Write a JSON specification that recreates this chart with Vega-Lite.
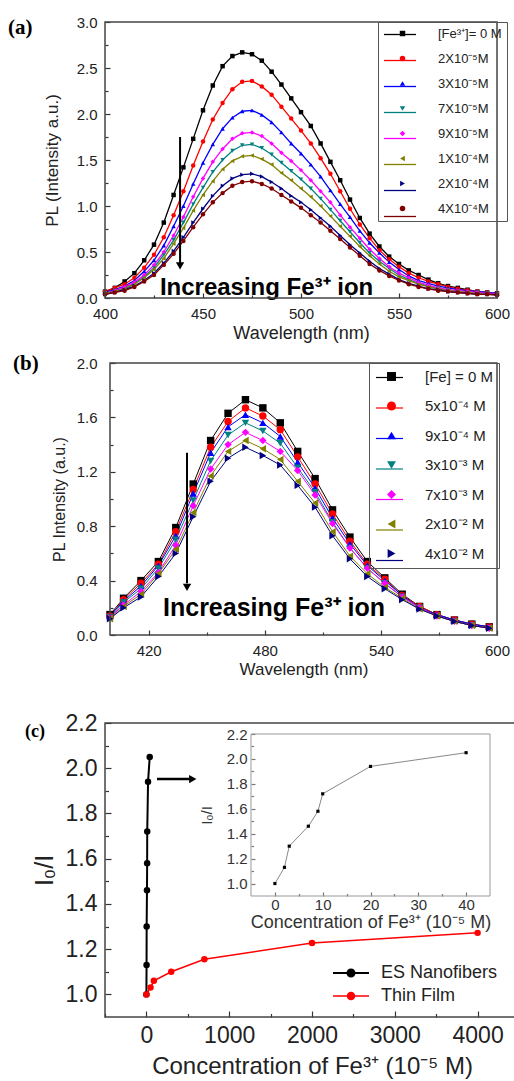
{
"$schema": "https://vega.github.io/schema/vega-lite/v6.json",
"width": 514, "height": 1081, "padding": 0, "autosize": {"type": "none"}, "background": "white",
"config": {"view": {"stroke": null}, "font": "Liberation Sans",
 "axis": {"grid": false, "domain": false, "labelFont": "Liberation Sans", "titleFont": "Liberation Sans", "labelColor": "#222", "titleColor": "#222", "tickColor": "#333", "tickWidth": 1.2, "labelOverlap": false, "labelFlush": false, "labelBound": false, "titleFontWeight": "normal"},
 "legend": {"labelFont": "Liberation Sans"}},
"datasets": {
"specA": [
{"s":"[Fe³⁺]= 0 M","x":400,"y":0.07},{"s":"[Fe³⁺]= 0 M","x":405,"y":0.11},{"s":"[Fe³⁺]= 0 M","x":410,"y":0.18},{"s":"[Fe³⁺]= 0 M","x":415,"y":0.27},{"s":"[Fe³⁺]= 0 M","x":420,"y":0.41},{"s":"[Fe³⁺]= 0 M","x":425,"y":0.58},{"s":"[Fe³⁺]= 0 M","x":430,"y":0.82},{"s":"[Fe³⁺]= 0 M","x":435,"y":1.12},{"s":"[Fe³⁺]= 0 M","x":440,"y":1.42},{"s":"[Fe³⁺]= 0 M","x":445,"y":1.73},{"s":"[Fe³⁺]= 0 M","x":450,"y":2.04},{"s":"[Fe³⁺]= 0 M","x":455,"y":2.31},{"s":"[Fe³⁺]= 0 M","x":460,"y":2.52},{"s":"[Fe³⁺]= 0 M","x":465,"y":2.63},{"s":"[Fe³⁺]= 0 M","x":470,"y":2.67},{"s":"[Fe³⁺]= 0 M","x":475,"y":2.65},{"s":"[Fe³⁺]= 0 M","x":480,"y":2.58},{"s":"[Fe³⁺]= 0 M","x":485,"y":2.46},{"s":"[Fe³⁺]= 0 M","x":490,"y":2.32},{"s":"[Fe³⁺]= 0 M","x":495,"y":2.17},{"s":"[Fe³⁺]= 0 M","x":500,"y":2.02},{"s":"[Fe³⁺]= 0 M","x":505,"y":1.87},{"s":"[Fe³⁺]= 0 M","x":510,"y":1.68},{"s":"[Fe³⁺]= 0 M","x":515,"y":1.48},{"s":"[Fe³⁺]= 0 M","x":520,"y":1.28},{"s":"[Fe³⁺]= 0 M","x":525,"y":1.07},{"s":"[Fe³⁺]= 0 M","x":530,"y":0.87},{"s":"[Fe³⁺]= 0 M","x":535,"y":0.70},{"s":"[Fe³⁺]= 0 M","x":540,"y":0.56},{"s":"[Fe³⁺]= 0 M","x":545,"y":0.45},{"s":"[Fe³⁺]= 0 M","x":550,"y":0.37},{"s":"[Fe³⁺]= 0 M","x":555,"y":0.30},{"s":"[Fe³⁺]= 0 M","x":560,"y":0.25},{"s":"[Fe³⁺]= 0 M","x":565,"y":0.20},{"s":"[Fe³⁺]= 0 M","x":570,"y":0.16},{"s":"[Fe³⁺]= 0 M","x":575,"y":0.13},{"s":"[Fe³⁺]= 0 M","x":580,"y":0.11},{"s":"[Fe³⁺]= 0 M","x":585,"y":0.09},{"s":"[Fe³⁺]= 0 M","x":590,"y":0.07},{"s":"[Fe³⁺]= 0 M","x":595,"y":0.06},{"s":"[Fe³⁺]= 0 M","x":600,"y":0.05},
{"s":"2X10⁻⁵M","x":400,"y":0.07},{"s":"2X10⁻⁵M","x":405,"y":0.11},{"s":"2X10⁻⁵M","x":410,"y":0.15},{"s":"2X10⁻⁵M","x":415,"y":0.22},{"s":"2X10⁻⁵M","x":420,"y":0.33},{"s":"2X10⁻⁵M","x":425,"y":0.47},{"s":"2X10⁻⁵M","x":430,"y":0.66},{"s":"2X10⁻⁵M","x":435,"y":0.90},{"s":"2X10⁻⁵M","x":440,"y":1.16},{"s":"2X10⁻⁵M","x":445,"y":1.44},{"s":"2X10⁻⁵M","x":450,"y":1.70},{"s":"2X10⁻⁵M","x":455,"y":1.94},{"s":"2X10⁻⁵M","x":460,"y":2.12},{"s":"2X10⁻⁵M","x":465,"y":2.27},{"s":"2X10⁻⁵M","x":470,"y":2.35},{"s":"2X10⁻⁵M","x":475,"y":2.36},{"s":"2X10⁻⁵M","x":480,"y":2.30},{"s":"2X10⁻⁵M","x":485,"y":2.21},{"s":"2X10⁻⁵M","x":490,"y":2.08},{"s":"2X10⁻⁵M","x":495,"y":1.95},{"s":"2X10⁻⁵M","x":500,"y":1.82},{"s":"2X10⁻⁵M","x":505,"y":1.68},{"s":"2X10⁻⁵M","x":510,"y":1.52},{"s":"2X10⁻⁵M","x":515,"y":1.35},{"s":"2X10⁻⁵M","x":520,"y":1.16},{"s":"2X10⁻⁵M","x":525,"y":0.97},{"s":"2X10⁻⁵M","x":530,"y":0.80},{"s":"2X10⁻⁵M","x":535,"y":0.65},{"s":"2X10⁻⁵M","x":540,"y":0.52},{"s":"2X10⁻⁵M","x":545,"y":0.42},{"s":"2X10⁻⁵M","x":550,"y":0.34},{"s":"2X10⁻⁵M","x":555,"y":0.27},{"s":"2X10⁻⁵M","x":560,"y":0.22},{"s":"2X10⁻⁵M","x":565,"y":0.18},{"s":"2X10⁻⁵M","x":570,"y":0.15},{"s":"2X10⁻⁵M","x":575,"y":0.12},{"s":"2X10⁻⁵M","x":580,"y":0.10},{"s":"2X10⁻⁵M","x":585,"y":0.085},{"s":"2X10⁻⁵M","x":590,"y":0.07},{"s":"2X10⁻⁵M","x":595,"y":0.06},{"s":"2X10⁻⁵M","x":600,"y":0.05},
{"s":"3X10⁻⁵M","x":400,"y":0.06},{"s":"3X10⁻⁵M","x":405,"y":0.09},{"s":"3X10⁻⁵M","x":410,"y":0.13},{"s":"3X10⁻⁵M","x":415,"y":0.19},{"s":"3X10⁻⁵M","x":420,"y":0.29},{"s":"3X10⁻⁵M","x":425,"y":0.41},{"s":"3X10⁻⁵M","x":430,"y":0.57},{"s":"3X10⁻⁵M","x":435,"y":0.78},{"s":"3X10⁻⁵M","x":440,"y":1.00},{"s":"3X10⁻⁵M","x":445,"y":1.24},{"s":"3X10⁻⁵M","x":450,"y":1.47},{"s":"3X10⁻⁵M","x":455,"y":1.67},{"s":"3X10⁻⁵M","x":460,"y":1.84},{"s":"3X10⁻⁵M","x":465,"y":1.96},{"s":"3X10⁻⁵M","x":470,"y":2.03},{"s":"3X10⁻⁵M","x":475,"y":2.04},{"s":"3X10⁻⁵M","x":480,"y":1.99},{"s":"3X10⁻⁵M","x":485,"y":1.91},{"s":"3X10⁻⁵M","x":490,"y":1.80},{"s":"3X10⁻⁵M","x":495,"y":1.68},{"s":"3X10⁻⁵M","x":500,"y":1.57},{"s":"3X10⁻⁵M","x":505,"y":1.45},{"s":"3X10⁻⁵M","x":510,"y":1.32},{"s":"3X10⁻⁵M","x":515,"y":1.17},{"s":"3X10⁻⁵M","x":520,"y":1.02},{"s":"3X10⁻⁵M","x":525,"y":0.88},{"s":"3X10⁻⁵M","x":530,"y":0.73},{"s":"3X10⁻⁵M","x":535,"y":0.60},{"s":"3X10⁻⁵M","x":540,"y":0.49},{"s":"3X10⁻⁵M","x":545,"y":0.39},{"s":"3X10⁻⁵M","x":550,"y":0.31},{"s":"3X10⁻⁵M","x":555,"y":0.24},{"s":"3X10⁻⁵M","x":560,"y":0.19},{"s":"3X10⁻⁵M","x":565,"y":0.16},{"s":"3X10⁻⁵M","x":570,"y":0.13},{"s":"3X10⁻⁵M","x":575,"y":0.11},{"s":"3X10⁻⁵M","x":580,"y":0.09},{"s":"3X10⁻⁵M","x":585,"y":0.08},{"s":"3X10⁻⁵M","x":590,"y":0.07},{"s":"3X10⁻⁵M","x":595,"y":0.06},{"s":"3X10⁻⁵M","x":600,"y":0.05},
{"s":"7X10⁻⁵M","x":400,"y":0.05},{"s":"7X10⁻⁵M","x":405,"y":0.08},{"s":"7X10⁻⁵M","x":410,"y":0.11},{"s":"7X10⁻⁵M","x":415,"y":0.16},{"s":"7X10⁻⁵M","x":420,"y":0.23},{"s":"7X10⁻⁵M","x":425,"y":0.33},{"s":"7X10⁻⁵M","x":430,"y":0.47},{"s":"7X10⁻⁵M","x":435,"y":0.63},{"s":"7X10⁻⁵M","x":440,"y":0.82},{"s":"7X10⁻⁵M","x":445,"y":1.02},{"s":"7X10⁻⁵M","x":450,"y":1.20},{"s":"7X10⁻⁵M","x":455,"y":1.37},{"s":"7X10⁻⁵M","x":460,"y":1.50},{"s":"7X10⁻⁵M","x":465,"y":1.60},{"s":"7X10⁻⁵M","x":470,"y":1.66},{"s":"7X10⁻⁵M","x":475,"y":1.67},{"s":"7X10⁻⁵M","x":480,"y":1.63},{"s":"7X10⁻⁵M","x":485,"y":1.56},{"s":"7X10⁻⁵M","x":490,"y":1.47},{"s":"7X10⁻⁵M","x":495,"y":1.38},{"s":"7X10⁻⁵M","x":500,"y":1.29},{"s":"7X10⁻⁵M","x":505,"y":1.19},{"s":"7X10⁻⁵M","x":510,"y":1.08},{"s":"7X10⁻⁵M","x":515,"y":0.96},{"s":"7X10⁻⁵M","x":520,"y":0.84},{"s":"7X10⁻⁵M","x":525,"y":0.72},{"s":"7X10⁻⁵M","x":530,"y":0.60},{"s":"7X10⁻⁵M","x":535,"y":0.49},{"s":"7X10⁻⁵M","x":540,"y":0.40},{"s":"7X10⁻⁵M","x":545,"y":0.32},{"s":"7X10⁻⁵M","x":550,"y":0.25},{"s":"7X10⁻⁵M","x":555,"y":0.20},{"s":"7X10⁻⁵M","x":560,"y":0.16},{"s":"7X10⁻⁵M","x":565,"y":0.13},{"s":"7X10⁻⁵M","x":570,"y":0.11},{"s":"7X10⁻⁵M","x":575,"y":0.09},{"s":"7X10⁻⁵M","x":580,"y":0.07},{"s":"7X10⁻⁵M","x":585,"y":0.06},{"s":"7X10⁻⁵M","x":590,"y":0.06},{"s":"7X10⁻⁵M","x":595,"y":0.05},{"s":"7X10⁻⁵M","x":600,"y":0.04},
{"s":"9X10⁻⁵M","x":400,"y":0.05},{"s":"9X10⁻⁵M","x":405,"y":0.08},{"s":"9X10⁻⁵M","x":410,"y":0.12},{"s":"9X10⁻⁵M","x":415,"y":0.17},{"s":"9X10⁻⁵M","x":420,"y":0.25},{"s":"9X10⁻⁵M","x":425,"y":0.36},{"s":"9X10⁻⁵M","x":430,"y":0.50},{"s":"9X10⁻⁵M","x":435,"y":0.68},{"s":"9X10⁻⁵M","x":440,"y":0.88},{"s":"9X10⁻⁵M","x":445,"y":1.10},{"s":"9X10⁻⁵M","x":450,"y":1.30},{"s":"9X10⁻⁵M","x":455,"y":1.48},{"s":"9X10⁻⁵M","x":460,"y":1.62},{"s":"9X10⁻⁵M","x":465,"y":1.73},{"s":"9X10⁻⁵M","x":470,"y":1.79},{"s":"9X10⁻⁵M","x":475,"y":1.80},{"s":"9X10⁻⁵M","x":480,"y":1.76},{"s":"9X10⁻⁵M","x":485,"y":1.68},{"s":"9X10⁻⁵M","x":490,"y":1.58},{"s":"9X10⁻⁵M","x":495,"y":1.49},{"s":"9X10⁻⁵M","x":500,"y":1.39},{"s":"9X10⁻⁵M","x":505,"y":1.28},{"s":"9X10⁻⁵M","x":510,"y":1.16},{"s":"9X10⁻⁵M","x":515,"y":1.04},{"s":"9X10⁻⁵M","x":520,"y":0.90},{"s":"9X10⁻⁵M","x":525,"y":0.77},{"s":"9X10⁻⁵M","x":530,"y":0.65},{"s":"9X10⁻⁵M","x":535,"y":0.53},{"s":"9X10⁻⁵M","x":540,"y":0.43},{"s":"9X10⁻⁵M","x":545,"y":0.34},{"s":"9X10⁻⁵M","x":550,"y":0.27},{"s":"9X10⁻⁵M","x":555,"y":0.22},{"s":"9X10⁻⁵M","x":560,"y":0.17},{"s":"9X10⁻⁵M","x":565,"y":0.14},{"s":"9X10⁻⁵M","x":570,"y":0.11},{"s":"9X10⁻⁵M","x":575,"y":0.09},{"s":"9X10⁻⁵M","x":580,"y":0.08},{"s":"9X10⁻⁵M","x":585,"y":0.07},{"s":"9X10⁻⁵M","x":590,"y":0.06},{"s":"9X10⁻⁵M","x":595,"y":0.05},{"s":"9X10⁻⁵M","x":600,"y":0.05},
{"s":"1X10⁻⁴M","x":400,"y":0.05},{"s":"1X10⁻⁴M","x":405,"y":0.07},{"s":"1X10⁻⁴M","x":410,"y":0.10},{"s":"1X10⁻⁴M","x":415,"y":0.15},{"s":"1X10⁻⁴M","x":420,"y":0.22},{"s":"1X10⁻⁴M","x":425,"y":0.31},{"s":"1X10⁻⁴M","x":430,"y":0.43},{"s":"1X10⁻⁴M","x":435,"y":0.59},{"s":"1X10⁻⁴M","x":440,"y":0.76},{"s":"1X10⁻⁴M","x":445,"y":0.95},{"s":"1X10⁻⁴M","x":450,"y":1.12},{"s":"1X10⁻⁴M","x":455,"y":1.27},{"s":"1X10⁻⁴M","x":460,"y":1.40},{"s":"1X10⁻⁴M","x":465,"y":1.49},{"s":"1X10⁻⁴M","x":470,"y":1.54},{"s":"1X10⁻⁴M","x":475,"y":1.55},{"s":"1X10⁻⁴M","x":480,"y":1.51},{"s":"1X10⁻⁴M","x":485,"y":1.45},{"s":"1X10⁻⁴M","x":490,"y":1.36},{"s":"1X10⁻⁴M","x":495,"y":1.28},{"s":"1X10⁻⁴M","x":500,"y":1.19},{"s":"1X10⁻⁴M","x":505,"y":1.10},{"s":"1X10⁻⁴M","x":510,"y":1.00},{"s":"1X10⁻⁴M","x":515,"y":0.89},{"s":"1X10⁻⁴M","x":520,"y":0.78},{"s":"1X10⁻⁴M","x":525,"y":0.67},{"s":"1X10⁻⁴M","x":530,"y":0.56},{"s":"1X10⁻⁴M","x":535,"y":0.46},{"s":"1X10⁻⁴M","x":540,"y":0.37},{"s":"1X10⁻⁴M","x":545,"y":0.29},{"s":"1X10⁻⁴M","x":550,"y":0.23},{"s":"1X10⁻⁴M","x":555,"y":0.19},{"s":"1X10⁻⁴M","x":560,"y":0.15},{"s":"1X10⁻⁴M","x":565,"y":0.12},{"s":"1X10⁻⁴M","x":570,"y":0.10},{"s":"1X10⁻⁴M","x":575,"y":0.08},{"s":"1X10⁻⁴M","x":580,"y":0.07},{"s":"1X10⁻⁴M","x":585,"y":0.06},{"s":"1X10⁻⁴M","x":590,"y":0.05},{"s":"1X10⁻⁴M","x":595,"y":0.04},{"s":"1X10⁻⁴M","x":600,"y":0.04},
{"s":"2X10⁻⁴M","x":400,"y":0.04},{"s":"2X10⁻⁴M","x":405,"y":0.06},{"s":"2X10⁻⁴M","x":410,"y":0.09},{"s":"2X10⁻⁴M","x":415,"y":0.13},{"s":"2X10⁻⁴M","x":420,"y":0.19},{"s":"2X10⁻⁴M","x":425,"y":0.27},{"s":"2X10⁻⁴M","x":430,"y":0.38},{"s":"2X10⁻⁴M","x":435,"y":0.51},{"s":"2X10⁻⁴M","x":440,"y":0.66},{"s":"2X10⁻⁴M","x":445,"y":0.82},{"s":"2X10⁻⁴M","x":450,"y":0.97},{"s":"2X10⁻⁴M","x":455,"y":1.11},{"s":"2X10⁻⁴M","x":460,"y":1.22},{"s":"2X10⁻⁴M","x":465,"y":1.30},{"s":"2X10⁻⁴M","x":470,"y":1.34},{"s":"2X10⁻⁴M","x":475,"y":1.35},{"s":"2X10⁻⁴M","x":480,"y":1.32},{"s":"2X10⁻⁴M","x":485,"y":1.26},{"s":"2X10⁻⁴M","x":490,"y":1.19},{"s":"2X10⁻⁴M","x":495,"y":1.11},{"s":"2X10⁻⁴M","x":500,"y":1.04},{"s":"2X10⁻⁴M","x":505,"y":0.96},{"s":"2X10⁻⁴M","x":510,"y":0.87},{"s":"2X10⁻⁴M","x":515,"y":0.78},{"s":"2X10⁻⁴M","x":520,"y":0.68},{"s":"2X10⁻⁴M","x":525,"y":0.58},{"s":"2X10⁻⁴M","x":530,"y":0.49},{"s":"2X10⁻⁴M","x":535,"y":0.40},{"s":"2X10⁻⁴M","x":540,"y":0.32},{"s":"2X10⁻⁴M","x":545,"y":0.26},{"s":"2X10⁻⁴M","x":550,"y":0.20},{"s":"2X10⁻⁴M","x":555,"y":0.16},{"s":"2X10⁻⁴M","x":560,"y":0.13},{"s":"2X10⁻⁴M","x":565,"y":0.10},{"s":"2X10⁻⁴M","x":570,"y":0.09},{"s":"2X10⁻⁴M","x":575,"y":0.07},{"s":"2X10⁻⁴M","x":580,"y":0.06},{"s":"2X10⁻⁴M","x":585,"y":0.05},{"s":"2X10⁻⁴M","x":590,"y":0.04},{"s":"2X10⁻⁴M","x":595,"y":0.04},{"s":"2X10⁻⁴M","x":600,"y":0.04},
{"s":"4X10⁻⁴M","x":400,"y":0.04},{"s":"4X10⁻⁴M","x":405,"y":0.06},{"s":"4X10⁻⁴M","x":410,"y":0.08},{"s":"4X10⁻⁴M","x":415,"y":0.12},{"s":"4X10⁻⁴M","x":420,"y":0.18},{"s":"4X10⁻⁴M","x":425,"y":0.25},{"s":"4X10⁻⁴M","x":430,"y":0.36},{"s":"4X10⁻⁴M","x":435,"y":0.48},{"s":"4X10⁻⁴M","x":440,"y":0.62},{"s":"4X10⁻⁴M","x":445,"y":0.77},{"s":"4X10⁻⁴M","x":450,"y":0.91},{"s":"4X10⁻⁴M","x":455,"y":1.04},{"s":"4X10⁻⁴M","x":460,"y":1.14},{"s":"4X10⁻⁴M","x":465,"y":1.22},{"s":"4X10⁻⁴M","x":470,"y":1.26},{"s":"4X10⁻⁴M","x":475,"y":1.27},{"s":"4X10⁻⁴M","x":480,"y":1.24},{"s":"4X10⁻⁴M","x":485,"y":1.19},{"s":"4X10⁻⁴M","x":490,"y":1.12},{"s":"4X10⁻⁴M","x":495,"y":1.05},{"s":"4X10⁻⁴M","x":500,"y":0.98},{"s":"4X10⁻⁴M","x":505,"y":0.90},{"s":"4X10⁻⁴M","x":510,"y":0.82},{"s":"4X10⁻⁴M","x":515,"y":0.73},{"s":"4X10⁻⁴M","x":520,"y":0.64},{"s":"4X10⁻⁴M","x":525,"y":0.55},{"s":"4X10⁻⁴M","x":530,"y":0.46},{"s":"4X10⁻⁴M","x":535,"y":0.37},{"s":"4X10⁻⁴M","x":540,"y":0.30},{"s":"4X10⁻⁴M","x":545,"y":0.24},{"s":"4X10⁻⁴M","x":550,"y":0.19},{"s":"4X10⁻⁴M","x":555,"y":0.15},{"s":"4X10⁻⁴M","x":560,"y":0.12},{"s":"4X10⁻⁴M","x":565,"y":0.10},{"s":"4X10⁻⁴M","x":570,"y":0.08},{"s":"4X10⁻⁴M","x":575,"y":0.07},{"s":"4X10⁻⁴M","x":580,"y":0.06},{"s":"4X10⁻⁴M","x":585,"y":0.05},{"s":"4X10⁻⁴M","x":590,"y":0.04},{"s":"4X10⁻⁴M","x":595,"y":0.04},{"s":"4X10⁻⁴M","x":600,"y":0.03}
],
"specB": [
{"s":"[Fe] = 0 M","x":400,"y":0.15},{"s":"[Fe] = 0 M","x":407,"y":0.27},{"s":"[Fe] = 0 M","x":416,"y":0.40},{"s":"[Fe] = 0 M","x":425,"y":0.54},{"s":"[Fe] = 0 M","x":434,"y":0.79},{"s":"[Fe] = 0 M","x":443,"y":1.11},{"s":"[Fe] = 0 M","x":452,"y":1.43},{"s":"[Fe] = 0 M","x":461,"y":1.63},{"s":"[Fe] = 0 M","x":470,"y":1.73},{"s":"[Fe] = 0 M","x":479,"y":1.67},{"s":"[Fe] = 0 M","x":488,"y":1.56},{"s":"[Fe] = 0 M","x":497,"y":1.35},{"s":"[Fe] = 0 M","x":506,"y":1.15},{"s":"[Fe] = 0 M","x":515,"y":0.92},{"s":"[Fe] = 0 M","x":524,"y":0.72},{"s":"[Fe] = 0 M","x":533,"y":0.54},{"s":"[Fe] = 0 M","x":542,"y":0.42},{"s":"[Fe] = 0 M","x":551,"y":0.30},{"s":"[Fe] = 0 M","x":560,"y":0.21},{"s":"[Fe] = 0 M","x":569,"y":0.15},{"s":"[Fe] = 0 M","x":578,"y":0.11},{"s":"[Fe] = 0 M","x":587,"y":0.08},{"s":"[Fe] = 0 M","x":596,"y":0.06},
{"s":"5x10⁻⁴ M","x":400,"y":0.14},{"s":"5x10⁻⁴ M","x":407,"y":0.26},{"s":"5x10⁻⁴ M","x":416,"y":0.38},{"s":"5x10⁻⁴ M","x":425,"y":0.52},{"s":"5x10⁻⁴ M","x":434,"y":0.76},{"s":"5x10⁻⁴ M","x":443,"y":1.07},{"s":"5x10⁻⁴ M","x":452,"y":1.38},{"s":"5x10⁻⁴ M","x":461,"y":1.57},{"s":"5x10⁻⁴ M","x":470,"y":1.67},{"s":"5x10⁻⁴ M","x":479,"y":1.61},{"s":"5x10⁻⁴ M","x":488,"y":1.51},{"s":"5x10⁻⁴ M","x":497,"y":1.31},{"s":"5x10⁻⁴ M","x":506,"y":1.11},{"s":"5x10⁻⁴ M","x":515,"y":0.89},{"s":"5x10⁻⁴ M","x":524,"y":0.69},{"s":"5x10⁻⁴ M","x":533,"y":0.52},{"s":"5x10⁻⁴ M","x":542,"y":0.41},{"s":"5x10⁻⁴ M","x":551,"y":0.29},{"s":"5x10⁻⁴ M","x":560,"y":0.21},{"s":"5x10⁻⁴ M","x":569,"y":0.15},{"s":"5x10⁻⁴ M","x":578,"y":0.11},{"s":"5x10⁻⁴ M","x":587,"y":0.08},{"s":"5x10⁻⁴ M","x":596,"y":0.06},
{"s":"9x10⁻⁴ M","x":400,"y":0.14},{"s":"9x10⁻⁴ M","x":407,"y":0.25},{"s":"9x10⁻⁴ M","x":416,"y":0.36},{"s":"9x10⁻⁴ M","x":425,"y":0.51},{"s":"9x10⁻⁴ M","x":434,"y":0.73},{"s":"9x10⁻⁴ M","x":443,"y":1.04},{"s":"9x10⁻⁴ M","x":452,"y":1.34},{"s":"9x10⁻⁴ M","x":461,"y":1.53},{"s":"9x10⁻⁴ M","x":470,"y":1.62},{"s":"9x10⁻⁴ M","x":479,"y":1.56},{"s":"9x10⁻⁴ M","x":488,"y":1.46},{"s":"9x10⁻⁴ M","x":497,"y":1.27},{"s":"9x10⁻⁴ M","x":506,"y":1.08},{"s":"9x10⁻⁴ M","x":515,"y":0.86},{"s":"9x10⁻⁴ M","x":524,"y":0.67},{"s":"9x10⁻⁴ M","x":533,"y":0.51},{"s":"9x10⁻⁴ M","x":542,"y":0.40},{"s":"9x10⁻⁴ M","x":551,"y":0.29},{"s":"9x10⁻⁴ M","x":560,"y":0.20},{"s":"9x10⁻⁴ M","x":569,"y":0.15},{"s":"9x10⁻⁴ M","x":578,"y":0.11},{"s":"9x10⁻⁴ M","x":587,"y":0.08},{"s":"9x10⁻⁴ M","x":596,"y":0.06},
{"s":"3x10⁻³ M","x":400,"y":0.13},{"s":"3x10⁻³ M","x":407,"y":0.24},{"s":"3x10⁻³ M","x":416,"y":0.34},{"s":"3x10⁻³ M","x":425,"y":0.49},{"s":"3x10⁻³ M","x":434,"y":0.70},{"s":"3x10⁻³ M","x":443,"y":0.99},{"s":"3x10⁻³ M","x":452,"y":1.28},{"s":"3x10⁻³ M","x":461,"y":1.47},{"s":"3x10⁻³ M","x":470,"y":1.56},{"s":"3x10⁻³ M","x":479,"y":1.50},{"s":"3x10⁻³ M","x":488,"y":1.41},{"s":"3x10⁻³ M","x":497,"y":1.23},{"s":"3x10⁻³ M","x":506,"y":1.05},{"s":"3x10⁻³ M","x":515,"y":0.83},{"s":"3x10⁻³ M","x":524,"y":0.64},{"s":"3x10⁻³ M","x":533,"y":0.49},{"s":"3x10⁻³ M","x":542,"y":0.38},{"s":"3x10⁻³ M","x":551,"y":0.28},{"s":"3x10⁻³ M","x":560,"y":0.20},{"s":"3x10⁻³ M","x":569,"y":0.14},{"s":"3x10⁻³ M","x":578,"y":0.10},{"s":"3x10⁻³ M","x":587,"y":0.07},{"s":"3x10⁻³ M","x":596,"y":0.05},
{"s":"7x10⁻³ M","x":400,"y":0.13},{"s":"7x10⁻³ M","x":407,"y":0.22},{"s":"7x10⁻³ M","x":416,"y":0.32},{"s":"7x10⁻³ M","x":425,"y":0.46},{"s":"7x10⁻³ M","x":434,"y":0.66},{"s":"7x10⁻³ M","x":443,"y":0.95},{"s":"7x10⁻³ M","x":452,"y":1.22},{"s":"7x10⁻³ M","x":461,"y":1.40},{"s":"7x10⁻³ M","x":470,"y":1.49},{"s":"7x10⁻³ M","x":479,"y":1.43},{"s":"7x10⁻³ M","x":488,"y":1.35},{"s":"7x10⁻³ M","x":497,"y":1.21},{"s":"7x10⁻³ M","x":506,"y":1.03},{"s":"7x10⁻³ M","x":515,"y":0.82},{"s":"7x10⁻³ M","x":524,"y":0.64},{"s":"7x10⁻³ M","x":533,"y":0.49},{"s":"7x10⁻³ M","x":542,"y":0.38},{"s":"7x10⁻³ M","x":551,"y":0.28},{"s":"7x10⁻³ M","x":560,"y":0.20},{"s":"7x10⁻³ M","x":569,"y":0.14},{"s":"7x10⁻³ M","x":578,"y":0.10},{"s":"7x10⁻³ M","x":587,"y":0.07},{"s":"7x10⁻³ M","x":596,"y":0.05},
{"s":"2x10⁻² M","x":400,"y":0.12},{"s":"2x10⁻² M","x":407,"y":0.21},{"s":"2x10⁻² M","x":416,"y":0.30},{"s":"2x10⁻² M","x":425,"y":0.45},{"s":"2x10⁻² M","x":434,"y":0.63},{"s":"2x10⁻² M","x":443,"y":0.90},{"s":"2x10⁻² M","x":452,"y":1.17},{"s":"2x10⁻² M","x":461,"y":1.35},{"s":"2x10⁻² M","x":470,"y":1.43},{"s":"2x10⁻² M","x":479,"y":1.37},{"s":"2x10⁻² M","x":488,"y":1.29},{"s":"2x10⁻² M","x":497,"y":1.13},{"s":"2x10⁻² M","x":506,"y":0.97},{"s":"2x10⁻² M","x":515,"y":0.76},{"s":"2x10⁻² M","x":524,"y":0.58},{"s":"2x10⁻² M","x":533,"y":0.45},{"s":"2x10⁻² M","x":542,"y":0.35},{"s":"2x10⁻² M","x":551,"y":0.27},{"s":"2x10⁻² M","x":560,"y":0.19},{"s":"2x10⁻² M","x":569,"y":0.14},{"s":"2x10⁻² M","x":578,"y":0.10},{"s":"2x10⁻² M","x":587,"y":0.07},{"s":"2x10⁻² M","x":596,"y":0.05},
{"s":"4x10⁻² M","x":400,"y":0.12},{"s":"4x10⁻² M","x":407,"y":0.20},{"s":"4x10⁻² M","x":416,"y":0.28},{"s":"4x10⁻² M","x":425,"y":0.43},{"s":"4x10⁻² M","x":434,"y":0.60},{"s":"4x10⁻² M","x":443,"y":0.87},{"s":"4x10⁻² M","x":452,"y":1.13},{"s":"4x10⁻² M","x":461,"y":1.30},{"s":"4x10⁻² M","x":470,"y":1.38},{"s":"4x10⁻² M","x":479,"y":1.32},{"s":"4x10⁻² M","x":488,"y":1.25},{"s":"4x10⁻² M","x":497,"y":1.10},{"s":"4x10⁻² M","x":506,"y":0.94},{"s":"4x10⁻² M","x":515,"y":0.73},{"s":"4x10⁻² M","x":524,"y":0.56},{"s":"4x10⁻² M","x":533,"y":0.43},{"s":"4x10⁻² M","x":542,"y":0.34},{"s":"4x10⁻² M","x":551,"y":0.26},{"s":"4x10⁻² M","x":560,"y":0.19},{"s":"4x10⁻² M","x":569,"y":0.14},{"s":"4x10⁻² M","x":578,"y":0.10},{"s":"4x10⁻² M","x":587,"y":0.07},{"s":"4x10⁻² M","x":596,"y":0.05}
],
"conc": [
{"m":"ES Nanofibers","c":0,"r":1.00},{"m":"ES Nanofibers","c":2,"r":1.13},{"m":"ES Nanofibers","c":3,"r":1.30},{"m":"ES Nanofibers","c":7,"r":1.46},{"m":"ES Nanofibers","c":9,"r":1.58},{"m":"ES Nanofibers","c":10,"r":1.72},{"m":"ES Nanofibers","c":20,"r":1.94},{"m":"ES Nanofibers","c":40,"r":2.05},
{"m":"Thin Film","c":0,"r":1.00},{"m":"Thin Film","c":50,"r":1.03},{"m":"Thin Film","c":90,"r":1.06},{"m":"Thin Film","c":300,"r":1.10},{"m":"Thin Film","c":700,"r":1.155},{"m":"Thin Film","c":2000,"r":1.227},{"m":"Thin Film","c":4000,"r":1.272}
]
},
"layer": [
{
 "layer": [
  {"data": {"name": "specA"}, "mark": {"type": "line", "strokeWidth": 1.3},
   "encoding": {
    "x": {"field": "x", "type": "quantitative", "scale": {"domain": [400,600], "range": [105,497], "nice": false, "zero": false},
      "axis": {"orient": "bottom", "offset": -783, "values": [400,450,500,550,600], "ticks": false, "labelPadding": 8.5, "labelFontSize": 15, "title": "Wavelength (nm)", "titleFontSize": 18, "titlePadding": 2.5}},
    "y": {"field": "y", "type": "quantitative", "scale": {"domain": [0,3], "range": [298,22], "nice": false, "zero": false},
      "axis": {"orient": "left", "offset": -105, "values": [0,0.5,1,1.5,2,2.5,3], "format": ".1f", "ticks": false, "labelPadding": 8, "labelFontSize": 15, "title": "PL (Intensity a.u.)", "titleFontSize": 17, "titlePadding": 15}},
    "color": {"field": "s", "type": "nominal", "scale": {"domain": ["[Fe³⁺]= 0 M","2X10⁻⁵M","3X10⁻⁵M","7X10⁻⁵M","9X10⁻⁵M","1X10⁻⁴M","2X10⁻⁴M","4X10⁻⁴M"], "range": ["#000000","#ff0000","#0000ff","#008080","#ff00ff","#808000","#000080","#800000"]},
      "legend": {"orient": "none", "legendX": 378, "legendY": 22, "title": null, "padding": 5,
        "symbolType": "M-2.46,0H2.46", "symbolSize": 169, "symbolOffset": 9.5, "symbolStrokeWidth": 1.3, "labelExpr": "''", "labelFontSize": 13, "labelOffset": 29, "rowPadding": 11}}
   }},
  {"data": {"name": "specA"}, "mark": {"type": "point", "filled": true, "size": 20, "opacity": 1},
   "encoding": {
    "x": {"field": "x", "type": "quantitative", "scale": {"domain": [400,600], "range": [105,497], "nice": false, "zero": false},
      "axis": {"orient": "top", "offset": -298, "values": [400,450,500,550,600], "tickSize": 5, "labels": false, "title": null}},
    "y": {"field": "y", "type": "quantitative", "scale": {"domain": [0,3], "range": [298,22], "nice": false, "zero": false},
      "axis": {"orient": "right", "offset": -409, "values": [0,0.5,1,1.5,2,2.5,3], "tickSize": 5, "labels": false, "title": null}},
    "color": {"field": "s", "type": "nominal", "scale": {"domain": ["[Fe³⁺]= 0 M","2X10⁻⁵M","3X10⁻⁵M","7X10⁻⁵M","9X10⁻⁵M","1X10⁻⁴M","2X10⁻⁴M","4X10⁻⁴M"], "range": ["#000000","#ff0000","#0000ff","#008080","#ff00ff","#808000","#000080","#800000"]},
      "legend": {"orient": "none", "legendX": 378, "legendY": 22, "title": null, "padding": 5, "strokeColor": "#555555",
        "symbolSize": 30, "symbolOffset": 13, "symbolStrokeWidth": 1.3, "labelFontSize": 13, "labelColor": "#222222", "labelOffset": 29, "rowPadding": 11}},
    "shape": {"field": "s", "type": "nominal", "scale": {"domain": ["[Fe³⁺]= 0 M","2X10⁻⁵M","3X10⁻⁵M","7X10⁻⁵M","9X10⁻⁵M","1X10⁻⁴M","2X10⁻⁴M","4X10⁻⁴M"], "range": ["square","circle","triangle-up","triangle-down","diamond","triangle-left","triangle-right","circle"]},
      "legend": {"orient": "none", "legendX": 378, "legendY": 22, "title": null, "padding": 5, "strokeColor": "#555555",
        "symbolSize": 30, "symbolOffset": 13, "symbolStrokeWidth": 1.3, "labelFontSize": 13, "labelColor": "#222222", "labelOffset": 29, "rowPadding": 11}}
   }},
  {"data": {"values": [{"t": "(a)", "x": 350.5, "y": 2.94}]}, "mark": {"type": "text", "font": "Liberation Serif", "fontWeight": "bold", "fontSize": 21, "align": "left", "baseline": "middle", "color": "#000000"},
   "encoding": {"x": {"field": "x", "type": "quantitative", "axis": {"orient": "top", "offset": -298, "values": [425,475,525,575], "tickSize": 3, "labels": false, "title": null}},
     "y": {"field": "y", "type": "quantitative", "axis": {"orient": "right", "offset": -409, "values": [0.25,0.75,1.25,1.75,2.25,2.75], "tickSize": 3, "labels": false, "title": null}}, "text": {"field": "t", "type": "nominal"}}},
  {"data": {"values": [{"t": "Increasing Fe³⁺ ion", "x": 428, "y": 0.11}]}, "mark": {"type": "text", "font": "Liberation Sans", "fontWeight": "bold", "fontSize": 24, "align": "left", "baseline": "middle", "color": "#000000"},
   "encoding": {"x": {"field": "x", "type": "quantitative", "axis": null}, "y": {"field": "y", "type": "quantitative", "axis": null}, "text": {"field": "t", "type": "nominal"}}},
  {"data": {"values": [{"x": 438.3, "y": 1.75, "y2": 0.38}]}, "mark": {"type": "rule", "strokeWidth": 2, "color": "#000000"},
   "encoding": {"x": {"field": "x", "type": "quantitative", "axis": null}, "y": {"field": "y", "type": "quantitative", "axis": null}, "y2": {"field": "y2"}}},
  {"data": {"values": [{"x": 438.3, "y": 0.35}]}, "mark": {"type": "point", "shape": "triangle-down", "filled": true, "size": 70, "color": "#000000", "opacity": 1},
   "encoding": {"x": {"field": "x", "type": "quantitative", "axis": null}, "y": {"field": "y", "type": "quantitative", "axis": null}}},
  {"data": {"values": [{}]}, "mark": {"type": "rect", "filled": false, "stroke": "#444444", "strokeWidth": 1.5},
   "encoding": {"x": {"datum": 400, "type": "quantitative", "axis": null}, "x2": {"datum": 600}, "y": {"datum": 0, "type": "quantitative", "axis": null}, "y2": {"datum": 3}}}
 ],
 "resolve": {"axis": {"x": "independent", "y": "independent"}, "scale": {"color": "independent", "shape": "independent"}, "legend": {"color": "independent", "shape": "independent"}}
},
{
 "layer": [
  {"data": {"name": "specB"}, "mark": {"type": "line", "strokeWidth": 1},
   "encoding": {
    "x": {"field": "x", "type": "quantitative", "scale": {"domain": [400,600], "range": [110,497], "nice": false, "zero": false},
      "axis": {"orient": "bottom", "offset": -446, "values": [420,480,540,600], "ticks": false, "labelPadding": 8, "labelFontSize": 15, "title": "Wavelength (nm)", "titleFontSize": 17, "titlePadding": 3}},
    "y": {"field": "y", "type": "quantitative", "scale": {"domain": [0,2], "range": [635,363], "nice": false, "zero": false},
      "axis": {"orient": "left", "offset": -110, "values": [0,0.4,0.8,1.2,1.6,2], "format": ".1f", "ticks": false, "labelPadding": 13, "labelFontSize": 15, "title": "PL Intensity (a.u.)", "titleFontSize": 16, "titlePadding": 9}},
    "color": {"field": "s", "type": "nominal", "scale": {"domain": ["[Fe] = 0 M","5x10⁻⁴ M","9x10⁻⁴ M","3x10⁻³ M","7x10⁻³ M","2x10⁻² M","4x10⁻² M"], "range": ["#000000","#ff0000","#0000ff","#008080","#ff00ff","#808000","#000080"]},
      "legend": {"orient": "none", "legendX": 369, "legendY": 363, "title": null, "padding": 6,
        "symbolType": "M-1.8,0H1.8", "symbolSize": 225, "symbolOffset": 6, "symbolStrokeWidth": 1.2, "labelExpr": "''", "labelFontSize": 15, "labelOffset": 26, "rowPadding": 13.5}}
   }},
  {"data": {"name": "specB"}, "mark": {"type": "point", "filled": true, "size": 55, "opacity": 1},
   "encoding": {
    "x": {"field": "x", "type": "quantitative", "scale": {"domain": [400,600], "range": [110,497], "nice": false, "zero": false},
      "axis": {"orient": "top", "offset": -635, "values": [420,480,540,600], "tickSize": 5, "labels": false, "title": null}},
    "y": {"field": "y", "type": "quantitative", "scale": {"domain": [0,2], "range": [635,363], "nice": false, "zero": false},
      "axis": {"orient": "right", "offset": -404, "values": [0,0.4,0.8,1.2,1.6,2], "tickSize": 5, "labels": false, "title": null}},
    "color": {"field": "s", "type": "nominal", "scale": {"domain": ["[Fe] = 0 M","5x10⁻⁴ M","9x10⁻⁴ M","3x10⁻³ M","7x10⁻³ M","2x10⁻² M","4x10⁻² M"], "range": ["#000000","#ff0000","#0000ff","#008080","#ff00ff","#808000","#000080"]},
      "legend": {"orient": "none", "legendX": 369, "legendY": 363, "title": null, "padding": 6, "strokeColor": "#555555",
        "symbolSize": 80, "symbolOffset": 9, "symbolStrokeWidth": 1.2, "labelFontSize": 15, "labelColor": "#222222", "labelOffset": 26, "rowPadding": 13.5}},
    "shape": {"field": "s", "type": "nominal", "scale": {"domain": ["[Fe] = 0 M","5x10⁻⁴ M","9x10⁻⁴ M","3x10⁻³ M","7x10⁻³ M","2x10⁻² M","4x10⁻² M"], "range": ["square","circle","triangle-up","triangle-down","diamond","triangle-left","triangle-right"]},
      "legend": {"orient": "none", "legendX": 369, "legendY": 363, "title": null, "padding": 6, "strokeColor": "#555555",
        "symbolSize": 80, "symbolOffset": 9, "symbolStrokeWidth": 1.2, "labelFontSize": 15, "labelColor": "#222222", "labelOffset": 26, "rowPadding": 13.5}}
   }},
  {"data": {"values": [{"t": "(b)", "x": 349.9, "y": 1.996}]}, "mark": {"type": "text", "font": "Liberation Serif", "fontWeight": "bold", "fontSize": 21, "align": "left", "baseline": "middle", "color": "#000000"},
   "encoding": {"x": {"field": "x", "type": "quantitative", "axis": {"orient": "top", "offset": -635, "values": [450,510,570], "tickSize": 3, "labels": false, "title": null}},
     "y": {"field": "y", "type": "quantitative", "axis": {"orient": "right", "offset": -404, "values": [0.2,0.6,1.0,1.4,1.8], "tickSize": 3, "labels": false, "title": null}}, "text": {"field": "t", "type": "nominal"}}},
  {"data": {"values": [{"t": "Increasing Fe³⁺ ion", "x": 427.4, "y": 0.2}]}, "mark": {"type": "text", "font": "Liberation Sans", "fontWeight": "bold", "fontSize": 25, "align": "left", "baseline": "middle", "color": "#000000"},
   "encoding": {"x": {"field": "x", "type": "quantitative", "axis": null}, "y": {"field": "y", "type": "quantitative", "axis": null}, "text": {"field": "t", "type": "nominal"}}},
  {"data": {"values": [{"x": 439.8, "y": 1.34, "y2": 0.38}]}, "mark": {"type": "rule", "strokeWidth": 2, "color": "#000000"},
   "encoding": {"x": {"field": "x", "type": "quantitative", "axis": null}, "y": {"field": "y", "type": "quantitative", "axis": null}, "y2": {"field": "y2"}}},
  {"data": {"values": [{"x": 439.8, "y": 0.35}]}, "mark": {"type": "point", "shape": "triangle-down", "filled": true, "size": 70, "color": "#000000", "opacity": 1},
   "encoding": {"x": {"field": "x", "type": "quantitative", "axis": null}, "y": {"field": "y", "type": "quantitative", "axis": null}}},
  {"data": {"values": [{}]}, "mark": {"type": "rect", "filled": false, "stroke": "#444444", "strokeWidth": 1.5},
   "encoding": {"x": {"datum": 400, "type": "quantitative", "axis": null}, "x2": {"datum": 600}, "y": {"datum": 0, "type": "quantitative", "axis": null}, "y2": {"datum": 2}}}
 ],
 "resolve": {"axis": {"x": "independent", "y": "independent"}, "scale": {"color": "independent", "shape": "independent"}, "legend": {"color": "independent", "shape": "independent"}}
},
{
 "layer": [
  {"data": {"name": "conc"}, "mark": {"type": "line"},
   "encoding": {
    "x": {"field": "c", "type": "quantitative", "scale": {"domain": [-500,4500], "range": [105,519], "nice": false, "zero": false},
      "axis": {"orient": "bottom", "offset": -64, "values": [0,1000,2000,3000,4000], "format": "d", "ticks": false, "labelPadding": 7, "labelFontSize": 23, "title": "Concentration of Fe³⁺  (10⁻⁵ M)", "titleFontSize": 24, "titlePadding": 7}},
    "y": {"field": "r", "type": "quantitative", "scale": {"domain": [0.9,2.2], "range": [1017,723], "nice": false, "zero": false},
      "axis": {"orient": "left", "offset": -105, "values": [1,1.2,1.4,1.6,1.8,2,2.2], "format": ".1f", "ticks": false, "labelPadding": 8, "labelFontSize": 23, "title": "I₀/I", "titleFontSize": 25, "titlePadding": 8}},
    "color": {"field": "m", "type": "nominal", "scale": {"domain": ["ES Nanofibers","Thin Film"], "range": ["#000000","#ff0000"]}},
    "strokeWidth": {"field": "m", "type": "nominal", "scale": {"domain": ["ES Nanofibers","Thin Film"], "range": [2,1.5]}, "legend": null}
   }},
  {"data": {"name": "conc"}, "mark": {"type": "point", "filled": true, "size": 42, "opacity": 1, "shape": "circle"},
   "encoding": {
    "x": {"field": "c", "type": "quantitative", "scale": {"domain": [-500,4500], "range": [105,519], "nice": false, "zero": false},
      "axis": {"orient": "top", "offset": -1017, "values": [0,1000,2000,3000,4000], "tickSize": 6, "labels": false, "title": null}},
    "y": {"field": "r", "type": "quantitative", "scale": {"domain": [0.9,2.2], "range": [1017,723], "nice": false, "zero": false},
      "axis": {"orient": "right", "offset": -409, "values": [1,1.2,1.4,1.6,1.8,2,2.2], "tickSize": 6, "labels": false, "title": null}},
    "color": {"field": "m", "type": "nominal", "scale": {"domain": ["ES Nanofibers","Thin Film"], "range": ["#000000","#ff0000"]},
      "legend": {"orient": "none", "legendX": 332, "legendY": 963, "title": null, "padding": 0,
        "symbolSize": 324, "symbolOffset": 9, "symbolType": "M-2,0H2M0.39,0A0.39,0.39 0 1,1 -0.39,0A0.39,0.39 0 1,1 0.39,0Z", "symbolStrokeWidth": 1.8,
        "labelFontSize": 18, "labelColor": "#222222", "labelOffset": 20, "rowPadding": 4,
        "encode": {"symbols": {"stroke": {"value": {"expr": "['#000000','#ff0000'][datum.index]"}}}}}}
   }},
  {"data": {"values": [{"t": "(c)", "x": -1466, "y": 2.158}]}, "mark": {"type": "text", "font": "Liberation Serif", "fontWeight": "bold", "fontSize": 18, "align": "left", "baseline": "middle", "color": "#000000"},
   "encoding": {"x": {"field": "x", "type": "quantitative", "axis": {"orient": "top", "offset": -1017, "values": [-500,500,1500,2500,3500], "tickSize": 3.5, "labels": false, "title": null}},
     "y": {"field": "y", "type": "quantitative", "axis": {"orient": "right", "offset": -409, "values": [1.1,1.3,1.5,1.7,1.9,2.1], "tickSize": 3.5, "labels": false, "title": null}}, "text": {"field": "t", "type": "nominal"}}},
  {"data": {"values": [{"x": 128, "x2": 545, "y": 1.952}]}, "mark": {"type": "rule", "strokeWidth": 2.5, "color": "#000000"},
   "encoding": {"x": {"field": "x", "type": "quantitative", "axis": null}, "x2": {"field": "x2"}, "y": {"field": "y", "type": "quantitative", "axis": null}}},
  {"data": {"values": [{"x": 560, "y": 1.952}]}, "mark": {"type": "point", "shape": "triangle-right", "filled": true, "size": 70, "color": "#000000", "opacity": 1},
   "encoding": {"x": {"field": "x", "type": "quantitative", "axis": null}, "y": {"field": "y", "type": "quantitative", "axis": null}}},
  {"data": {"values": [{}]}, "mark": {"type": "rect", "filled": false, "stroke": "#444444", "strokeWidth": 1.5},
   "encoding": {"x": {"datum": -500, "type": "quantitative", "axis": null}, "x2": {"datum": 4500}, "y": {"datum": 0.9, "type": "quantitative", "axis": null}, "y2": {"datum": 2.2}}}
 ],
 "resolve": {"axis": {"x": "independent", "y": "independent"}}
},
{
 "layer": [
  {"data": {"name": "conc"}, "transform": [{"filter": "datum.m === 'ES Nanofibers'"}], "mark": {"type": "line", "color": "#888888", "strokeWidth": 1},
   "encoding": {
    "x": {"field": "c", "type": "quantitative", "scale": {"domain": [-5,45], "range": [251,490], "nice": false, "zero": false},
      "axis": {"orient": "bottom", "offset": -185, "values": [0,10,20,30,40], "format": "d", "ticks": false, "labelPadding": 1.5, "labelFontSize": 15, "labelColor": "#333333", "title": "Concentration of Fe³⁺ (10⁻⁵ M)", "titleFontSize": 18, "titleColor": "#333333", "titlePadding": 1}},
    "y": {"field": "r", "type": "quantitative", "scale": {"domain": [0.9,2.2], "range": [896,734], "nice": false, "zero": false},
      "axis": {"orient": "left", "offset": -251, "values": [1,1.2,1.4,1.6,1.8,2,2.2], "format": ".1f", "ticks": false, "labelPadding": 4, "labelFontSize": 15, "labelColor": "#333333", "title": "I₀/I", "titleFontSize": 15, "titleColor": "#333333", "titlePadding": 12}}
   }},
  {"data": {"name": "conc"}, "transform": [{"filter": "datum.m === 'ES Nanofibers'"}], "mark": {"type": "point", "shape": "square", "filled": true, "size": 10, "color": "#000000", "opacity": 1},
   "encoding": {
    "x": {"field": "c", "type": "quantitative", "scale": {"domain": [-5,45], "range": [251,490], "nice": false, "zero": false},
      "axis": {"orient": "top", "offset": -896, "values": [0,10,20,30,40], "tickSize": 4, "tickColor": "#777777", "labels": false, "title": null}},
    "y": {"field": "r", "type": "quantitative", "scale": {"domain": [0.9,2.2], "range": [896,734], "nice": false, "zero": false},
      "axis": {"orient": "right", "offset": -263, "values": [1,1.2,1.4,1.6,1.8,2,2.2], "tickSize": 4, "tickColor": "#777777", "labels": false, "title": null}}
   }},
  {"data": {"values": [{}]}, "mark": {"type": "rect", "filled": false, "stroke": "#999999", "strokeWidth": 1},
   "encoding": {"x": {"datum": -5, "type": "quantitative", "axis": {"orient": "top", "offset": -896, "values": [5,15,25,35], "tickSize": 2.5, "tickColor": "#777777", "labels": false, "title": null}}, "x2": {"datum": 45},
     "y": {"datum": 0.9, "type": "quantitative", "axis": {"orient": "right", "offset": -263, "values": [1.1,1.3,1.5,1.7,1.9,2.1], "tickSize": 2.5, "tickColor": "#777777", "labels": false, "title": null}}, "y2": {"datum": 2.2}}}
 ],
 "resolve": {"axis": {"x": "independent", "y": "independent"}}
}
],
"resolve": {"scale": {"x": "independent", "y": "independent", "color": "independent", "shape": "independent", "strokeWidth": "independent"}}
}
